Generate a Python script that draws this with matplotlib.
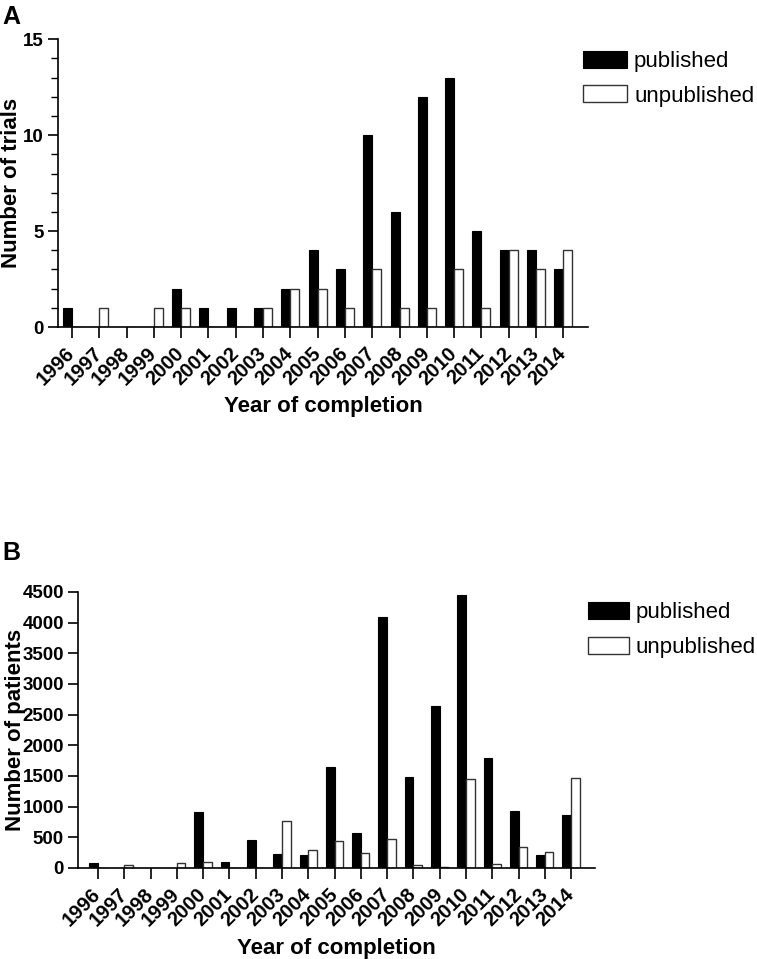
import matplotlib
matplotlib.use('Agg')
import matplotlib.pyplot as plt
from matplotlib.ticker import MultipleLocator
import numpy as np

plt.rcParams['font.family'] = ['Liberation Sans', 'DejaVu Sans']

years = [str(y) for y in range(1996, 2015)]
trials_pub = [1, 0, 0, 0, 2, 1, 1, 1, 2, 4, 3, 10, 6, 12, 13, 5, 4, 4, 3]
trials_unpub = [0, 1, 0, 1, 1, 0, 0, 1, 2, 2, 1, 3, 1, 1, 3, 1, 4, 3, 4]
patients_pub = [80, 0, 0, 0, 920, 100, 460, 225, 215, 1645, 570, 4085, 1490, 2635, 4445, 1790, 930, 215, 860]
patients_unpub = [0, 50, 0, 80, 90, 0, 0, 760, 300, 440, 245, 475, 55, 10, 1445, 65, 335, 260, 1465]

fig = plt.figure(figsize=(7.57, 9.59), dpi=100)

axA = fig.add_axes([0.0766, 0.659, 0.700, 0.300])
axB = fig.add_axes([0.1030, 0.0949, 0.6830, 0.2878])

x = np.arange(len(years))
w = 0.33


def draw(ax, pub, unpub, ylim, major, minor, xlim, ylab, xlab_y, ylab_x):
    ax.bar(x - w / 2, pub, w, color='black', edgecolor='black', linewidth=0.8, label='published')
    ax.bar(x + w / 2, unpub, w, color='white', edgecolor='#333333', linewidth=1.0, label='unpublished')
    ax.set_xlim(xlim)
    ax.set_ylim(ylim)
    ax.spines['top'].set_visible(False)
    ax.spines['right'].set_visible(False)
    ax.spines['left'].set_linewidth(1.2)
    ax.spines['bottom'].set_linewidth(1.2)
    ax.yaxis.set_major_locator(MultipleLocator(major))
    if minor:
        ax.yaxis.set_minor_locator(MultipleLocator(minor))
    ax.tick_params(axis='y', which='major', direction='out', length=7, width=1.2, pad=3, labelsize=13.5)
    ax.tick_params(axis='x', which='major', direction='out', length=8, width=1.2, pad=9)
    ax.tick_params(axis='y', which='minor', direction='out', length=5, width=1.0)
    ax.set_xticks(x)
    ax.set_xticklabels(years, rotation=45, ha='right', va='center', rotation_mode='anchor',
                       fontweight='bold', fontsize=14.5)
    for t in ax.get_yticklabels():
        t.set_fontweight('bold')
    ax.set_ylabel(ylab, fontsize=16, fontweight='bold')
    ax.set_xlabel('Year of completion', fontsize=16, fontweight='bold')
    ax.yaxis.set_label_coords(ylab_x, 0.5)
    ax.xaxis.set_label_coords(0.5, xlab_y)


draw(axA, trials_pub, trials_unpub, (0, 15), 5, 1, (-0.51, 18.9), 'Number of trials', -0.24, -0.067)
draw(axB, patients_pub, patients_unpub, (0, 4500), 500, None, (-0.76, 18.91), 'Number of patients', -0.255, -0.100)

leg_kw = dict(frameon=False, fontsize=16, handleheight=0.8,
              handletextpad=0.3, labelspacing=0.6, borderpad=0, borderaxespad=0,
              loc='upper left')
axA.legend(bbox_to_anchor=(0.770, 0.947), bbox_transform=fig.transFigure, handlelength=2.0, **leg_kw)
axB.legend(bbox_to_anchor=(0.777, 0.372), bbox_transform=fig.transFigure, handlelength=1.85, **leg_kw)

fig.text(0.003, 0.995, 'A', fontsize=18, fontweight='bold', va='top', ha='left')
fig.text(0.003, 0.436, 'B', fontsize=18, fontweight='bold', va='top', ha='left')

fig.savefig('out.png', dpi=100)
